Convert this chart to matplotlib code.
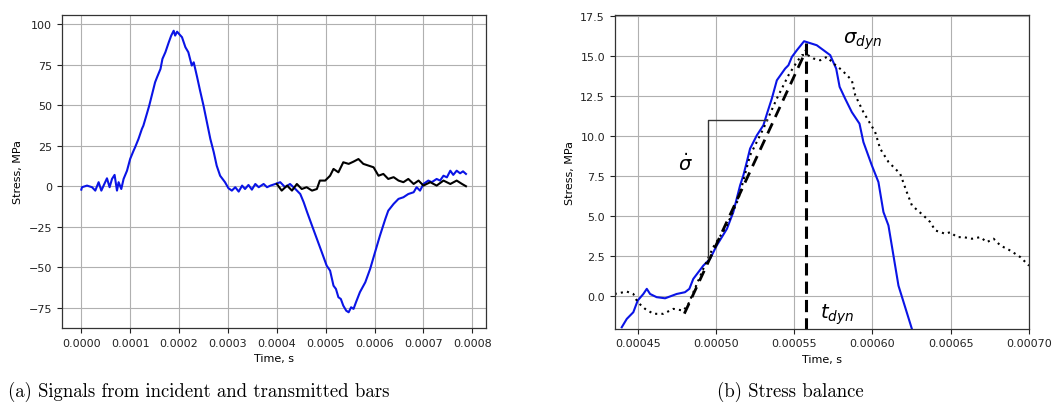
import matplotlib
matplotlib.use("Agg")
import matplotlib.pyplot as plt
import numpy as np

# ---- Panel (a): incident / transmitted bar signals ----
t_inc = [0.0, 0.0000014, 0.0000117, 0.000022, 0.0000286, 0.0000354, 0.000041, 0.0000456,
         0.0000525, 0.0000579, 0.0000628, 0.0000681, 0.000073, 0.0000763, 0.0000818, 0.0000865,
         0.0000935, 0.0001, 0.000107, 0.00011, 0.000117, 0.000124, 0.000127, 0.000134,
         0.000139, 0.000145, 0.000151, 0.000155, 0.000162, 0.000166, 0.000172, 0.000179,
         0.000184, 0.000189, 0.000192, 0.000196, 0.0002, 0.000206, 0.000213, 0.000219,
         0.000226, 0.00023, 0.000237, 0.000243, 0.00025, 0.000257, 0.000264, 0.000271,
         0.000277, 0.000284, 0.000294, 0.000301, 0.000308, 0.000315, 0.000322, 0.000329,
         0.000335, 0.000342, 0.000349, 0.000356, 0.000363, 0.000373, 0.00038, 0.000387,
         0.000397, 0.000407, 0.000417, 0.000427, 0.000438, 0.000448, 0.000455, 0.000462,
         0.000472, 0.000482, 0.000492, 0.000502, 0.000509, 0.000516, 0.000521, 0.000526,
         0.000531, 0.000536, 0.000542, 0.000547, 0.000552, 0.000557, 0.000562, 0.00057,
         0.000581, 0.000591, 0.000601, 0.000611, 0.000622, 0.000628, 0.000639, 0.000649,
         0.000659, 0.000669, 0.00068, 0.000686, 0.000693, 0.0007, 0.00071, 0.000717,
         0.000727, 0.000734, 0.000741, 0.000748, 0.000755, 0.000761, 0.000768, 0.000775,
         0.000781, 0.000787]
s_inc = [-2.1, -0.6, 0.4, -0.6, -2.7, 2.5, -2.7, 0.4,
         4.9, -0.6, 4.5, 7.0, -2.7, 2.5, -1.7, 4.5,
         9.6, 16.9, 22.0, 24.0, 29.2, 35.4, 37.4, 44.6,
         49.8, 57.0, 64.2, 67.3, 72.4, 78.6, 82.7, 88.9,
         93.0, 96.0, 93.0, 95.4, 94.0, 92.0, 85.8, 82.7,
         74.5, 76.5, 67.3, 59.0, 49.8, 39.5, 29.2, 21.0,
         12.7, 6.5, 2.5, -1.2, -2.7, -0.6, -3.3, 0.4,
         -1.7, 0.8, -2.1, 1.4, -0.6, 1.4, -0.6, 0.4,
         1.4, 2.5, -0.6, 1.4, -1.7, -4.8, -9.9, -16.0,
         -24.3, -32.5, -40.7, -49.0, -52.1, -61.4, -63.4, -68.5,
         -69.6, -73.7, -76.8, -77.8, -74.7, -75.7, -71.6, -65.4,
         -59.3, -51.0, -40.7, -30.5, -20.2, -15.1, -10.9, -7.8,
         -6.8, -4.8, -3.7, -0.6, -2.7, 1.4, 3.5, 2.5,
         4.5, 3.5, 6.5, 5.5, 9.6, 7.0, 9.6, 8.0,
         9.2, 7.6]

t_tra = [0.0004, 0.00041, 0.000421, 0.000431, 0.000441, 0.000451, 0.000461, 0.000472,
         0.000482, 0.000488, 0.000499, 0.000509, 0.000516, 0.000526, 0.000536, 0.000547,
         0.000557, 0.000567, 0.000577, 0.000588, 0.000598, 0.000608, 0.000618, 0.000628,
         0.000639, 0.000649, 0.000659, 0.000669, 0.00068, 0.00069, 0.0007, 0.000714,
         0.000727, 0.000741, 0.000755, 0.000768, 0.000779, 0.000787]
s_tra = [1.4, -2.7, 0.4, -2.7, 1.4, -1.7, -0.6, -2.7,
         -1.7, 3.5, 3.5, 6.5, 10.7, 8.6, 14.8, 13.8,
         15.2, 16.8, 13.8, 12.7, 11.7, 6.5, 7.6, 4.5,
         5.6, 3.5, 2.5, 4.5, 1.4, 3.5, 0.4, 2.5,
         0.4, 3.5, 1.4, 3.5, 1.4, 0.0]

# ---- Panel (b): stress balance ----
t_blue = [0.0004398, 0.000443, 0.0004472, 0.00045, 0.0004536, 0.0004558, 0.0004579,
          0.0004621, 0.0004675, 0.0004749, 0.0004802, 0.000483, 0.0004855, 0.0004919,
          0.0004962, 0.0005005, 0.000507, 0.0005111, 0.0005154, 0.0005175, 0.0005197,
          0.0005218, 0.0005261, 0.0005303, 0.0005329, 0.0005357, 0.0005389, 0.0005442,
          0.0005463, 0.0005485, 0.0005517, 0.0005563, 0.0005644, 0.000573, 0.0005768,
          0.000579, 0.0005825, 0.0005868, 0.0005917, 0.0005942, 0.0005996, 0.0006038,
          0.000607, 0.0006102, 0.0006134, 0.0006166, 0.0006252]
s_blue = [-1.94, -1.42, -1.0, -0.27, 0.14, 0.46, 0.14,
          -0.06, -0.13, 0.14, 0.25, 0.46, 1.08, 1.91,
          2.33, 3.17, 4.21, 5.26, 6.92, 7.55, 8.39,
          9.22, 10.05, 10.68, 11.5, 12.35, 13.49, 14.22,
          14.43, 14.95, 15.37, 15.93, 15.68, 15.06, 14.22,
          13.08, 12.35, 11.5, 10.78, 9.63, 8.17, 7.13,
          5.26, 4.42, 2.54, 0.66, -2.05]

t_dot = [0.0004353, 0.000443, 0.0004472, 0.00045, 0.0004547, 0.00046, 0.0004664,
         0.0004728, 0.0004792, 0.0004824, 0.0004919, 0.0004983, 0.000507, 0.0005144,
         0.0005218, 0.0005303, 0.0005389, 0.0005463, 0.0005517, 0.0005549, 0.0005581,
         0.0005623, 0.0005666, 0.0005709, 0.0005751, 0.0005805, 0.0005868, 0.000589,
         0.0005942, 0.0006017, 0.0006049, 0.0006102, 0.0006177, 0.0006219, 0.0006252,
         0.0006326, 0.0006369, 0.0006401, 0.0006465, 0.0006497, 0.000654, 0.0006582,
         0.0006636, 0.0006689, 0.0006731, 0.0006774, 0.0006817, 0.0006881, 0.0006945,
         0.0007]
s_dot = [0.14, 0.29, 0.14, -0.38, -0.79, -1.1, -1.1,
         -0.79, -0.9, -0.48, 1.71, 3.07, 4.42, 6.09,
         8.8, 10.47, 12.35, 13.8, 14.64, 15.06, 15.1,
         14.85, 14.74, 14.95, 14.54, 14.12, 13.49, 12.55,
         11.5, 10.26, 9.22, 8.39, 7.65, 6.51, 5.67,
         5.04, 4.63, 4.11, 3.9, 4.0, 3.69, 3.69,
         3.59, 3.69, 3.38, 3.59, 3.17, 2.85, 2.44,
         1.91]

fit_t = [0.0004798, 0.0005578]
fit_s = [-1.09, 15.4]
t_dyn = 0.0005578
sigma_dyn = 15.8
rate_t = [0.0004951, 0.0004951, 0.0005329]
rate_s = [2.4, 11.0, 11.0]

plt.rcParams['font.family'] = ['DejaVu Sans']
fig = plt.figure(figsize=(10.64, 4.14), dpi=100)

ax1 = fig.add_axes([62/1064, 1-329/414, (486-62)/1064, (329-16)/414])
ax2 = fig.add_axes([614.7/1064, 1-329.7/414, (1029-614.7)/1064, (329.7-16.3)/414])

blue = '#0a14e6'
for ax in (ax1, ax2):
    ax.grid(True, color='#b0b0b0', linewidth=0.8)
    ax.set_axisbelow(True)
    ax.tick_params(labelsize=8, length=3.5, width=0.8, colors='#222222')
    for sp in ax.spines.values():
        sp.set_color('#333333')
        sp.set_linewidth(0.9)
    ax.set_xlabel('Time, s', fontsize=8)
    ax.set_ylabel('Stress, MPa', fontsize=8)

ax1.plot(t_inc, s_inc, color=blue, lw=1.5)
ax1.plot(t_tra, s_tra, color='black', lw=1.5)
ax1.set_xlim(-0.0000395, 0.000828)
ax1.set_ylim(-87.5, 105.7)
ax1.set_xticks(np.arange(0, 0.00081, 0.0001))
ax1.set_xticklabels(['%.4f' % v for v in np.arange(0, 0.00081, 0.0001)])
ax1.set_yticks([-75, -50, -25, 0, 25, 50, 75, 100])
ax1.set_yticklabels(['\u221275', '\u221250', '\u221225', '0', '25', '50', '75', '100'])

ax2.plot(t_blue, s_blue, color=blue, lw=1.5)
ax2.plot(t_dot, s_dot, color='black', lw=1.5, linestyle=(0, (1, 2)))
ax2.plot(fit_t, fit_s, color='black', lw=2, linestyle=(0, (4, 2.5)))
ax2.plot([t_dyn, t_dyn], [-2.1, sigma_dyn], color='black', lw=2.2, linestyle=(0, (4, 2)))
ax2.plot(rate_t, rate_s, color='#333333', lw=1.0)
ax2.text(0.0005934, 16.0, r'$\sigma_{dyn}$', fontsize=14, ha='center', va='center')
ax2.text(0.0005774, -1.1, r'$t_{dyn}$', fontsize=14, ha='center', va='center')
ax2.text(0.0004803, 8.3, r'$\dot{\sigma}$', fontsize=14, ha='center', va='center')
ax2.set_xlim(0.0004353, 0.0007)
ax2.set_ylim(-2.03, 17.55)
xt = [0.00045, 0.0005, 0.00055, 0.0006, 0.00065, 0.0007]
ax2.set_xticks(xt)
ax2.set_xticklabels(['%.5f' % v for v in xt])
yt = [0.0, 2.5, 5.0, 7.5, 10.0, 12.5, 15.0, 17.5]
ax2.set_yticks(yt)
ax2.set_yticklabels(['%.1f' % v for v in yt])

fig.text(8/1064, 1-392/414, '(a) Signals from incident and transmitted bars',
         family='cmr10', fontsize=13.5, ha='left', va='center')
fig.text(790/1064, 1-392/414, '(b) Stress balance',
         family='cmr10', fontsize=13.5, ha='center', va='center')

fig.savefig('out.png', dpi=100)
